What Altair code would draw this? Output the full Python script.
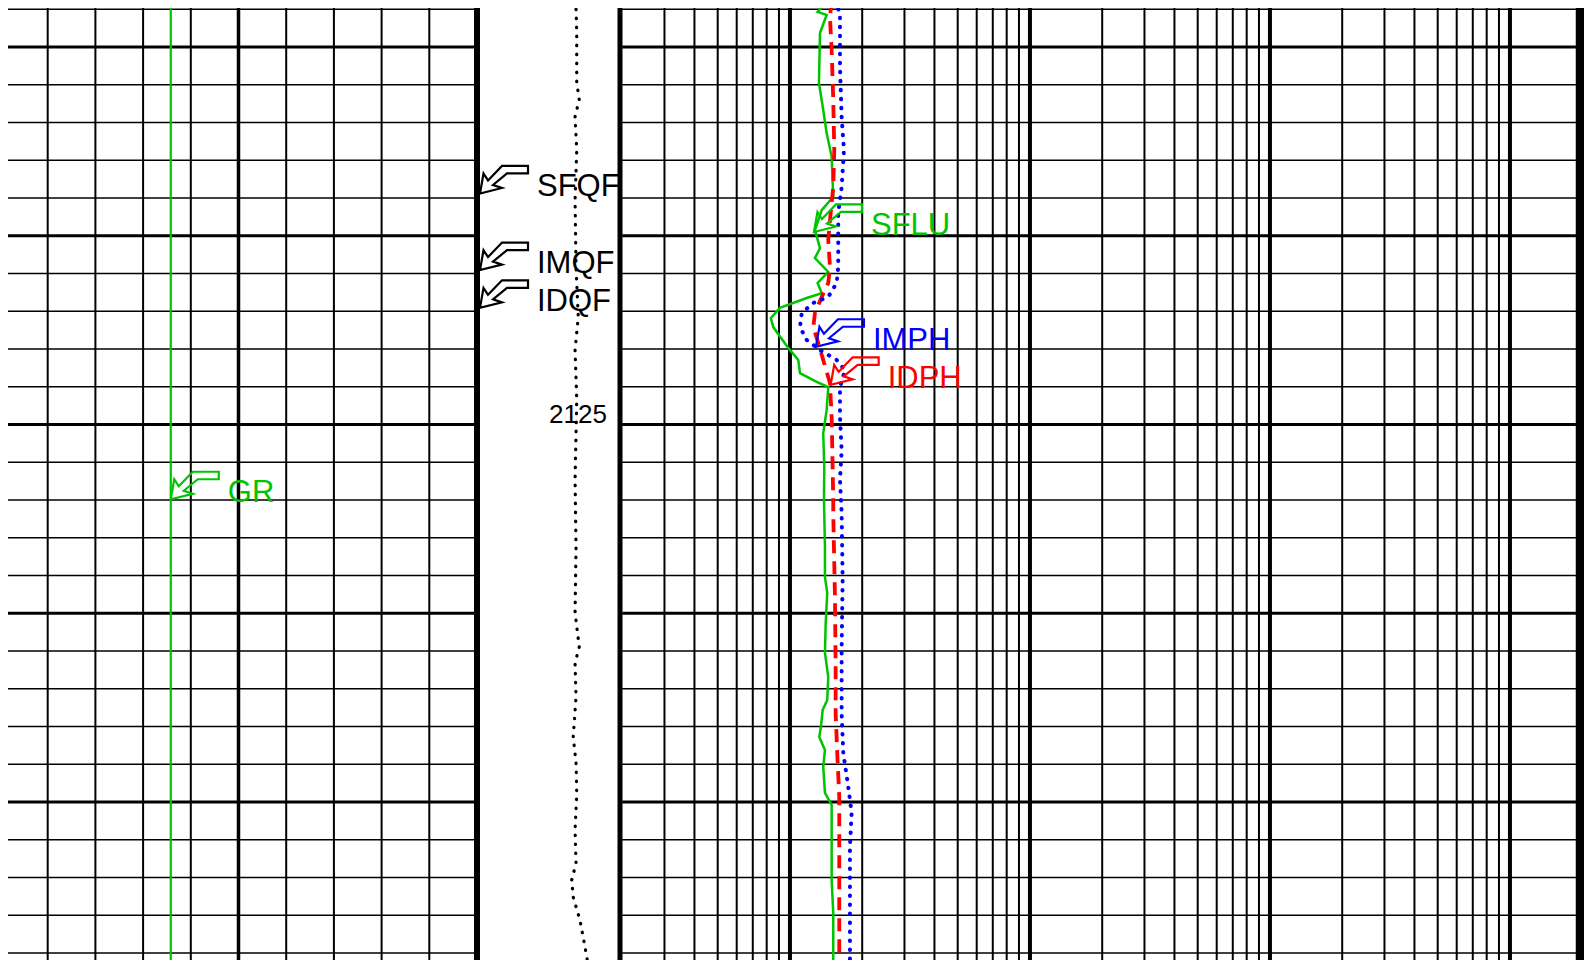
import altair as alt
import pandas as pd

# ---------------- data ----------------
# SFLU (ohm.m), green solid
sflu_depth = [2113.76, 2114.07, 2114.15, 2114.63, 2115.95, 2116.67, 2117.28, 2117.91, 2118.97,
              2119.32, 2119.85, 2120.33, 2120.59, 2120.96, 2121.25, 2121.52, 2121.65, 2121.91,
              2122.18, 2122.42, 2122.97, 2123.29, 2123.64, 2123.87, 2124.01, 2124.62, 2125.23,
              2126.13, 2127.00, 2128.25, 2129.04, 2129.46, 2130.26, 2131.05, 2131.69, 2132.30,
              2132.56, 2133.01, 2133.28, 2133.62, 2134.07, 2134.76, 2135.08, 2136.19, 2137.07,
              2137.94, 2139.50]
sflu = [1.444, 1.304, 1.422, 1.334, 1.321, 1.376, 1.422, 1.492, 1.515,
        1.356, 1.271, 1.334, 1.271, 1.444, 1.304, 1.356, 1.174, 0.908,
        0.833, 0.852, 0.984, 1.083, 1.101, 1.292, 1.444, 1.422, 1.376,
        1.390, 1.386, 1.399, 1.399, 1.430, 1.409, 1.399, 1.444, 1.430,
        1.369, 1.346, 1.325, 1.399, 1.376, 1.399, 1.492, 1.492, 1.492,
        1.515, 1.515]

# IDPH (ohm.m), red dashed
idph_depth = [2113.76, 2114.21, 2115.08, 2116.40, 2117.73, 2118.71, 2119.40, 2120.11, 2120.83,
              2121.25, 2121.62, 2122.05, 2122.42, 2122.84, 2123.29, 2123.90, 2124.80, 2126.13,
              2127.00, 2127.34, 2128.25, 2129.57, 2131.32, 2132.64, 2133.70, 2134.87, 2136.19,
              2137.94, 2139.50]
idph = [1.492, 1.468, 1.492, 1.515, 1.530, 1.515, 1.478, 1.444, 1.468,
        1.444, 1.356, 1.271, 1.251, 1.312, 1.376, 1.468, 1.492, 1.506,
        1.515, 1.515, 1.525, 1.540, 1.550, 1.550, 1.574, 1.605, 1.605,
        1.605, 1.605]

# IMPH (ohm.m), blue dotted
imph_depth = [2113.76, 2114.21, 2115.53, 2116.85, 2117.73, 2118.71, 2119.40, 2120.11, 2120.83,
              2121.25, 2121.62, 2121.78, 2122.05, 2122.42, 2122.76, 2123.03, 2123.29, 2123.56,
              2124.01, 2124.80, 2125.68, 2126.47, 2127.34, 2129.12, 2130.89, 2132.64, 2133.70,
              2134.60, 2135.29, 2136.19, 2137.94, 2139.50]
imph = [1.565, 1.616, 1.616, 1.642, 1.679, 1.642, 1.589, 1.589, 1.589,
        1.565, 1.444, 1.251, 1.119, 1.101, 1.174, 1.334, 1.565, 1.695,
        1.616, 1.616, 1.642, 1.616, 1.642, 1.658, 1.642, 1.642, 1.668,
        1.750, 1.807, 1.778, 1.778, 1.778]

# depth-track curve (black dotted)
tens_depth = [2113.76, 2114.63, 2115.95, 2116.40, 2116.85, 2117.73, 2119.05, 2120.83, 2122.15,
              2123.03, 2124.35, 2126.47, 2128.25, 2129.99, 2130.89, 2131.32, 2132.22, 2133.28,
              2133.97, 2134.76, 2135.74, 2136.62, 2137.07, 2137.52, 2138.13, 2138.84, 2139.50]
tens = [68.4, 69.1, 69.1, 70.9, 67.9, 69.1, 67.9, 68.6, 70.2,
        67.9, 69.1, 67.9, 68.6, 67.9, 70.9, 67.9, 68.6, 66.6,
        68.6, 69.1, 67.9, 68.6, 65.5, 66.6, 71.4, 75.0, 78.1]

# GR (gAPI), green, track 1
gr_depth = [2113.70, 2120.00, 2126.98, 2133.00, 2139.60]
gr = [53.7, 53.7, 53.7, 53.7, 53.7]

# curve flags
t3_flag_labels = ["SFLU", "IMPH", "IDPH"]
t3_flag_depths = [2119.90, 2122.94, 2123.95]
t3_flag_values = [1.259, 1.283, 1.478]
qf_labels = ["SFQF", "IMQF", "IDQF"]
qf_depths = [2118.88, 2120.91, 2121.91]
qf_values = [0, 0, 0]
gr_flag_labels = ["GR"]
gr_flag_depths = [2126.98]
gr_flag_values = [53.7]

# depth annotation
depth_label_depths = [2125]
depth_label_texts = ["2125"]
depth_label_pos = [70]

# grid
grid_depths_minor = [d for d in range(2114, 2140) if d % 5 != 0]
grid_depths_major = [2115, 2120, 2125, 2130, 2135]
gr_grid_minor = [15, 30, 45, 60, 90, 105, 120, 135]
gr_grid_mid = [75]
gr_grid_edge = [0, 150]
res_grid_minor = [0.3, 0.4, 0.5, 0.6, 0.7, 0.8, 0.9,
                  2, 3, 4, 5, 6, 7, 8, 9,
                  20, 30, 40, 50, 60, 70, 80, 90,
                  200, 300, 400, 500, 600, 700, 800, 900]
res_grid_decade = [1, 10, 100, 1000]
res_grid_edge = [2000]
res_edge_band = [1880, 1995]
t2_edge = [100]

# ---------------- scales ----------------
W, H = 1576, 952
D0 = 2113.967
D1 = D0 + H / 37.75
ysc = alt.Scale(domain=[D0, D1], reverse=True, nice=False, zero=False)
gr_sc = alt.Scale(domain=[0, 150], range=[-8, 469], nice=False, zero=False)
t2_sc = alt.Scale(domain=[0, 100], range=[472, 612], nice=False, zero=False)
res_sc = alt.Scale(type="log", domain=[0.2, 2000], range=[614.2, 1574.2], nice=False)

FONT = "Liberation Sans"
GREEN = "#00c400"
RED = "#ff0000"
BLUE = "#0000ff"
FLAG = ("M0,0L0.07,-0.4L0.16,-0.26L0.44,-0.55L0.96,-0.55L0.96,-0.4"
        "L0.54,-0.4L0.26,-0.17L0.44,-0.11Z")


def Y(field="depth"):
    return alt.Y(f"{field}:Q", scale=ysc, axis=None)


def hrules(depths, sc, lo, hi, width):
    df = pd.DataFrame({"depth": depths, "lo": lo, "hi": hi})
    return alt.Chart(df).mark_rule(color="black", strokeWidth=width).encode(
        y=Y(), x=alt.X("lo:Q", scale=sc, axis=None), x2=alt.X2("hi"))


def vrules(values, sc, width):
    df = pd.DataFrame({"v": values})
    return alt.Chart(df).mark_rule(color="black", strokeWidth=width).encode(
        x=alt.X("v:Q", scale=sc, axis=None))


def vband(lo_hi, sc):
    # solid track border drawn as a narrow band over the full depth range
    df = pd.DataFrame({"lo": [lo_hi[0]], "hi": [lo_hi[1]], "top": [D0], "bot": [D1]})
    return alt.Chart(df).mark_rect(color="black", opacity=1).encode(
        x=alt.X("lo:Q", scale=sc, axis=None), x2=alt.X2("hi"),
        y=Y("top"), y2=alt.Y2("bot"))


def curve(depths, values, sc, color, width, dash=None, cap="butt"):
    df = pd.DataFrame({"depth": depths, "value": values})
    kw = dict(color=color, strokeWidth=width, strokeCap=cap, clip=True)
    if dash:
        kw["strokeDash"] = dash
    return alt.Chart(df).mark_line(**kw).encode(
        x=alt.X("value:Q", scale=sc, axis=None), y=Y(), order="depth:Q")


def flags(labels, depths, values, sc, color):
    df = pd.DataFrame({"label": labels, "depth": depths, "value": values})
    base = alt.Chart(df).encode(x=alt.X("value:Q", scale=sc, axis=None), y=Y())
    pts = base.mark_point(shape=FLAG, size=10000, filled=False, color=color,
                          strokeWidth=2.2, opacity=1)
    txt = base.mark_text(align="left", baseline="middle", dx=57, dy=-6, font=FONT,
                         fontSize=31, color=color).encode(text="label:N")
    return [pts, txt]


layers = [
    # track 1 grid
    hrules(grid_depths_minor, gr_sc, 0, 150, 1.6),
    hrules(grid_depths_major, gr_sc, 0, 150, 3),
    vrules(gr_grid_minor, gr_sc, 2),
    vrules(gr_grid_mid, gr_sc, 3.5),
    vrules(gr_grid_edge, gr_sc, 6),
    # track 2 edge
    vrules(t2_edge, t2_sc, 5),
    # track 3 grid
    hrules(grid_depths_minor, res_sc, 0.2, 2000, 1.6),
    hrules(grid_depths_major, res_sc, 0.2, 2000, 3),
    vrules(res_grid_minor, res_sc, 2),
    vrules(res_grid_decade, res_sc, 4),
    vrules(res_grid_edge, res_sc, 5),
    vband(res_edge_band, res_sc),
    # depth label
    alt.Chart(pd.DataFrame({"depth": depth_label_depths, "value": depth_label_pos,
                            "t": depth_label_texts})).mark_text(
        align="center", baseline="alphabetic", dy=-1, font=FONT, fontSize=26, color="black"
    ).encode(x=alt.X("value:Q", scale=t2_sc, axis=None), y=Y(), text="t:N"),
    # curves
    curve(gr_depth, gr, gr_sc, GREEN, 2.2),
    curve(tens_depth, tens, t2_sc, "black", 3.2, dash=[0.5, 8.5], cap="round"),
    curve(sflu_depth, sflu, res_sc, GREEN, 2.5),
    curve(idph_depth, idph, res_sc, RED, 3.8, dash=[13, 8]),
    curve(imph_depth, imph, res_sc, BLUE, 4, dash=[0.5, 8.5], cap="round"),
]
layers += flags(gr_flag_labels, gr_flag_depths, gr_flag_values, gr_sc, GREEN)
layers += flags(qf_labels, qf_depths, qf_values, t2_sc, "black")
layers += flags(t3_flag_labels[:1], t3_flag_depths[:1], t3_flag_values[:1], res_sc, GREEN)
layers += flags(t3_flag_labels[1:2], t3_flag_depths[1:2], t3_flag_values[1:2], res_sc, BLUE)
layers += flags(t3_flag_labels[2:], t3_flag_depths[2:], t3_flag_values[2:], res_sc, RED)

chart = alt.layer(*layers).resolve_scale(x="independent").properties(
    width=W, height=H, autosize=alt.AutoSizeParams(type="none"), padding=0
).configure_view(strokeWidth=0)

chart.save("out.html", embed_options={"renderer": "svg", "actions": False})
